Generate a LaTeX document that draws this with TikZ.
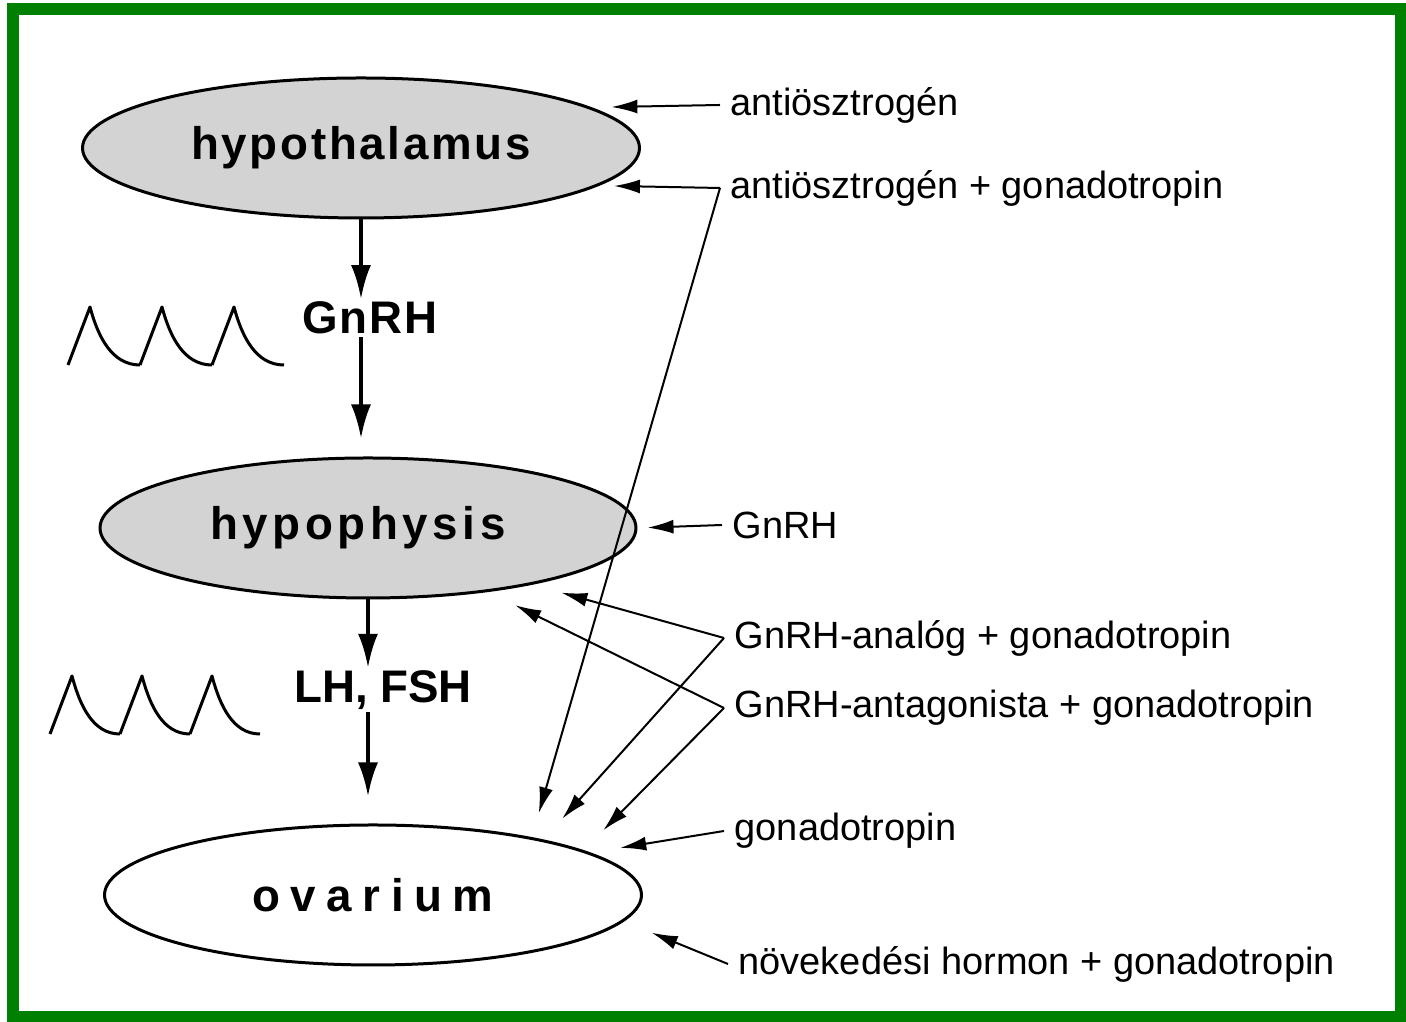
\documentclass[tikz,border=0pt]{standalone}
\usepackage{fontspec}
\setmainfont{Liberation Sans}
\usetikzlibrary{arrows.meta,shapes.geometric,calc}
\definecolor{framegreen}{HTML}{008000}
\definecolor{glandgray}{HTML}{D3D3D3}
\tikzset{
  gland/.style={
    ellipse,
    draw=black,
    line width=0.3mm,
    minimum width=55.7mm,
    minimum height=14mm,
    inner sep=0pt,
    font=\bfseries\fontsize{13}{15}\selectfont
  },
  hormone/.style={
    inner sep=0.2mm,
    font=\bfseries\fontsize{13}{15}\selectfont
  },
  drug/.style={
    anchor=west,
    inner sep=1mm,
    font=\fontsize{10.8}{12}\selectfont
  },
  mainarrow/.style={
    -{Latex[length=3.4mm,width=2mm]},
    line width=0.4mm
  },
  drugarrow/.style={
    -{Latex[length=2.6mm,width=1.4mm]},
    line width=0.2mm
  },
  pulse/.style={
    line width=0.3mm,
    line join=round
  }
}
\begin{document}
\begin{tikzpicture}[x=0.1mm,y=-0.1mm]
\useasboundingbox (0,0) rectangle (1406,1022);
\draw[framegreen, line width=1.2mm] (13,9) rectangle (1401,1017);

% glands
\node[gland, fill=glandgray] (hypoth) at (361,148) {\addfontfeature{LetterSpace=6}hypothalamus};
\node[gland, fill=glandgray, minimum width=53.6mm] (hypoph) at (368,528) {\hspace*{-2mm}\addfontfeature{LetterSpace=10}hypophysis};
\node[gland, fill=white, minimum width=53.7mm] (ovar) at (373,895) {\addfontfeature{LetterSpace=23}ovarium};

% hormones along the axis
\node[hormone] (gnrh) at (370,318) {\addfontfeature{LetterSpace=4}GnRH};
\node[hormone] (lhfsh) at (383,690) {LH, FSH};
\draw[mainarrow] (hypoth.south) -- (hypoth.south |- gnrh.north);
\draw[mainarrow, shorten >=1.8mm] (hypoth.south |- gnrh.south) -- (hypoth.south |- hypoph.north);
\draw[mainarrow] (hypoph.south) -- (hypoph.south |- lhfsh.north);
\draw[mainarrow, shorten >=2.7mm] (hypoph.south |- lhfsh.south) -- (hypoph.south |- ovar.north);

% pulsatile release
\foreach \px in {90,162,234}
  \draw[pulse] (\px-22,365) -- (\px,307) .. controls (\px+8,337) and (\px+22,365) .. (\px+50,365);
\foreach \px in {72,142,212}
  \draw[pulse] (\px-22,734) -- (\px,676) .. controls (\px+8,706) and (\px+21,734) .. (\px+48,734);

% treatments
\node[drug] (antiest) at (720,105) {antiösztrogén};
\node[drug] (antiestgon) at (720,188) {antiösztrogén + gonadotropin};
\node[drug] (gnrhdrug) at (722,525) {GnRH};
\node[drug] (analog) at (724,638) {GnRH-analóg + gonadotropin};
\node[drug] (antag) at (724,708) {GnRH-antagonista + gonadotropin};
\node[drug] (gonad) at (724,831) {gonadotropin};
\node[drug] (growth) at (728,964) {növekedési hormon + gonadotropin};

\draw[drugarrow, shorten >=2mm] (antiest.west) -- (hypoth.10);
\draw[drugarrow, shorten >=1.5mm] (antiestgon.west) -- (hypoth.-9);
\draw[drugarrow, shorten >=2.5mm] (antiestgon.west) -- (ovar.20);
\draw[drugarrow, shorten >=1mm] (gnrhdrug.west) -- (hypoph.east);
\draw[drugarrow, shorten >=3mm] (analog.west) -- (hypoph.-19);
\draw[drugarrow, shorten >=2.8mm] (analog.west) -- (ovar.18);
\draw[drugarrow, shorten >=3mm] (antag.west) -- (hypoph.-28);
\draw[drugarrow, shorten >=2.8mm] (antag.west) -- (ovar.12);
\draw[drugarrow, shorten >=3mm] (gonad.west) -- (ovar.11);
\draw[drugarrow, shorten >=3mm] (growth.west) -- (ovar.-6);
\end{tikzpicture}
\end{document}
